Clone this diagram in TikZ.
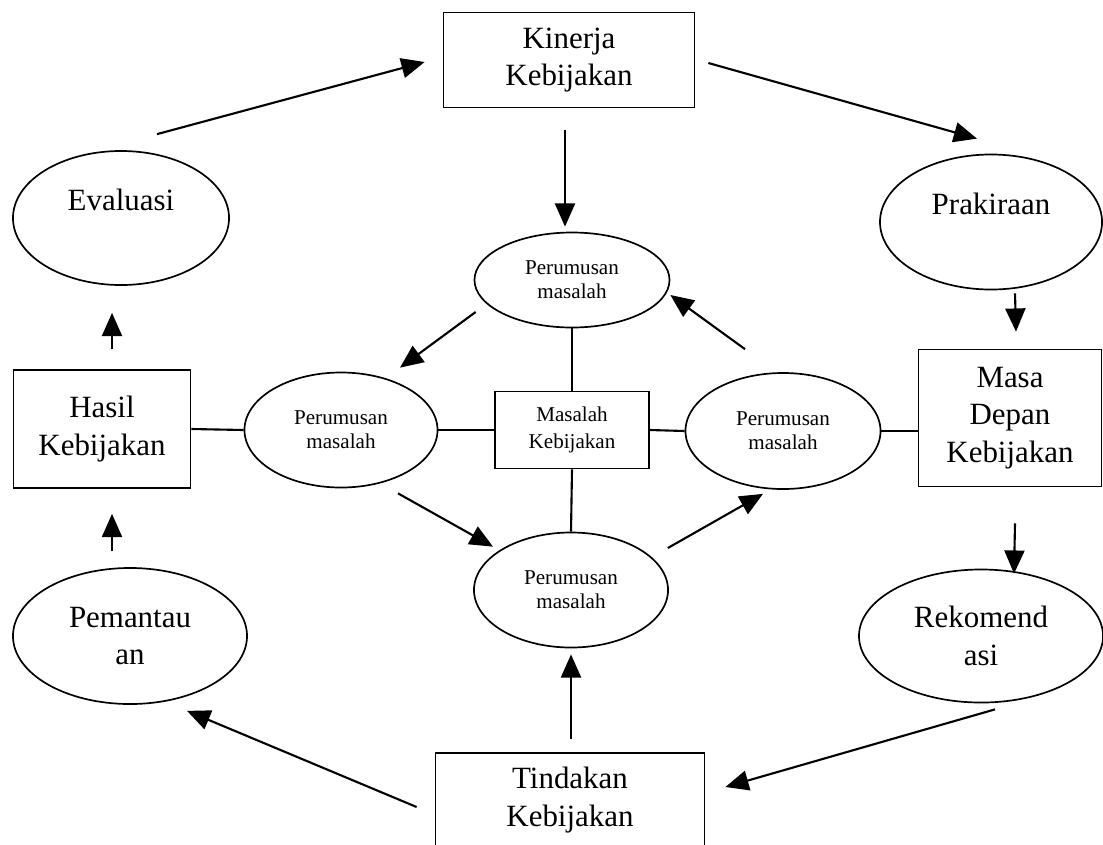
\documentclass[tikz,border=0pt]{standalone}
\usepackage{fontspec}
\setmainfont{Liberation Serif}
\usetikzlibrary{arrows.meta}
\usetikzlibrary{shapes}

\begin{document}
\begin{tikzpicture}[x=0.025cm,y=-0.025cm,line width=1.5pt,>={Triangle[length=0.58cm,width=0.5cm]}]
    \tikzstyle{boxnode}=[rectangle, draw, line width=1.2pt, inner sep=0pt, align=center, font=\fontsize{22}{26.6}\selectfont]
    \tikzstyle{ovalnode}=[ellipse, draw, line width=1.2pt, inner sep=0pt, align=center, font=\fontsize{22}{26.6}\selectfont]
    \tikzstyle{pernode}=[ellipse, draw, line width=1.2pt, inner sep=0pt, align=center, font=\fontsize{15}{17}\selectfont]
    \tikzstyle{centerbox}=[rectangle, draw, line width=1.2pt, inner sep=0pt, align=center, font=\fontsize{15}{19}\selectfont]

    \useasboundingbox (0,0) rectangle (1103,844);

    % outer ring
    \node[boxnode, minimum width=6.275cm, minimum height=2.375cm] (kinerja) at (569,60) {Kinerja\\Kebijakan};
    \node[ovalnode, minimum width=5.4cm, minimum height=3.35cm]   (evaluasi) at (121,218) {Evaluasi\\~};
    \node[ovalnode, minimum width=5.55cm, minimum height=3.375cm] (prakiraan) at (991,222) {Prakiraan\\~};
    \node[boxnode, minimum width=4.425cm, minimum height=2.95cm]  (hasil) at (102,429) {Hasil\\Kebijakan};
    \node[boxnode, minimum width=4.575cm, minimum height=3.425cm] (masa) at (1010,418) {Masa\\Depan\\Kebijakan};
    \node[ovalnode, minimum width=5.85cm, minimum height=3.4cm]   (pemantauan) at (130,636) {Pemantau\\an};
    \node[ovalnode, minimum width=6.1cm, minimum height=3.325cm]  (rekomendasi) at (981,636) {Rekomend\\asi};
    \node[boxnode, minimum width=6.725cm, minimum height=2.35cm]  (tindakan) at (570,800) {Tindakan\\Kebijakan};

    % inner ring
    \node[centerbox, minimum width=3.85cm, minimum height=1.925cm] (masalah) at (572,430) {Masalah\\Kebijakan};
    \node[pernode, minimum width=4.875cm, minimum height=2.375cm] (perT) at (572,280) {Perumusan\\masalah};
    \node[pernode, minimum width=4.825cm, minimum height=2.875cm] (perL) at (341,430) {Perumusan\\masalah};
    \node[pernode, minimum width=4.875cm, minimum height=2.9cm]   (perR) at (783,431) {Perumusan\\masalah};
    \node[pernode, minimum width=4.85cm, minimum height=2.875cm]  (perB) at (571,590) {Perumusan\\masalah};

    % plain links
    \draw (hasil.east) -- (perL.west);
    \draw (perL.east) -- (masalah.west);
    \draw (masalah.east) -- (perR.west);
    \draw (perR.east) -- (perR.east -| masa.west);
    \draw (perT.south) -- (masalah.north);
    \draw (masalah.south) -- (perB.north);

    % arrows
    \draw[->] ([shift={(36,-16)}]evaluasi.north) -- ([shift={(-18,2)}]kinerja.west);
    \draw[->] ([shift={(13,3)}]kinerja.east) -- ([shift={(-14,-15)}]prakiraan.north);
    \draw[->] ([shift={(24,3)}]prakiraan.south) -- ([shift={(6,-17)}]masa.north);
    \draw[->] ([shift={(5,36)}]masa.south) -- ([shift={(33,5)}]rekomendasi.north);
    \draw[->] ([shift={(14,6)}]rekomendasi.south) -- ([shift={(20,-13)}]tindakan.east);
    \draw[->] ([shift={(-18,7)}]tindakan.west) -- ([shift={(57,6)}]pemantauan.south);
    \draw[->] ([shift={(-18,-16)}]pemantauan.north) -- ([shift={(10,25)}]hasil.south);
    \draw[->] ([shift={(10,-20)}]hasil.north) -- ([shift={(-9,27)}]evaluasi.south);

    \draw[->] ([shift={(-4,22)}]kinerja.south) -- ([shift={(-7,-5)}]perT.north);
    \draw[->] ([shift={(1,-13)}]tindakan.north) -- ([shift={(0,6)}]perB.south);
    \draw[->] ([shift={(2,32)}]perT.west) -- ([shift={(59,-4)}]perL.north);
    \draw[->] ([shift={(57,5)}]perL.south) -- ([shift={(-78,15)}]perB.north);
    \draw[->] ([shift={(-1,-42)}]perB.east) -- ([shift={(-20,4)}]perR.south);
    \draw[->] ([shift={(-38,-23)}]perR.north) -- ([shift={(0,15)}]perT.east);
\end{tikzpicture}
\end{document}
